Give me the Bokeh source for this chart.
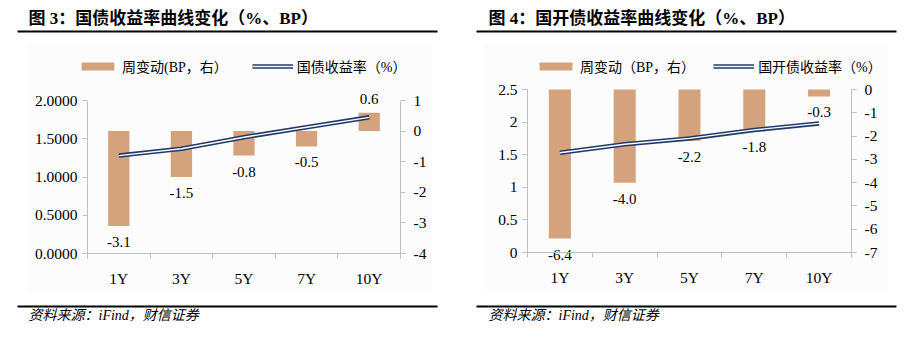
import numpy as np
from bokeh.plotting import figure
from bokeh.models import (Range1d, LinearAxis, FixedTicker, Legend, LegendItem, Label,
                          BoxAnnotation, ColumnDataSource, NumeralTickFormatter)
from bokeh.layouts import row
from bokeh.core.properties import value
from bokeh.embed import file_html
from bokeh.resources import INLINE

# ---------------- data ----------------
tenors = ["1Y", "3Y", "5Y", "7Y", "10Y"]
gz_yield = [1.28, 1.37, 1.52, 1.65, 1.78]          # 国债收益率 (%)
gz_change = [-3.1, -1.5, -0.8, -0.5, 0.6]          # 周变动 (BP)
gk_yield = [1.53, 1.66, 1.75, 1.88, 1.98]          # 国开债收益率 (%)
gk_change = [-6.4, -4.0, -2.2, -1.8, -0.3]         # 周变动 (BP)

gz_left_ticks = [0, 0.5, 1.0, 1.5, 2.0]
gz_right_ticks = [-4, -3, -2, -1, 0, 1]
gk_left_ticks = [0, 0.5, 1.0, 1.5, 2.0, 2.5]
gk_right_ticks = [-7, -6, -5, -4, -3, -2, -1, 0]

BAR = "#D4A37D"
NAVY = "#1F3A68"
AXIS = "#BFBFBF"
SERIF = "Liberation Serif"
MIX = "Liberation Serif, Noto Sans CJK SC"
H = 346


def span_range(v0, v1, p0, p1, total):
    """Range over the whole canvas so that v0 lands at pixel p0 and v1 at pixel p1
    (pixels counted from the left / bottom)."""
    k = (v1 - v0) / (p1 - p0)
    return Range1d(v0 - p0 * k, v1 + (total - p1) * k)


def style_axis(ax, standoff):
    ax.major_tick_in = 0
    ax.minor_tick_in = 0
    ax.minor_tick_out = 0
    ax.major_tick_line_color = AXIS
    ax.axis_line_color = AXIS
    ax.major_label_standoff = standoff
    ax.major_label_text_font = SERIF
    ax.major_label_text_font_size = "15.5px"
    ax.major_label_text_color = "black"


def panel(W, L, R, T, B, title, leg_bar, leg_line, yields, changes,
          yl, yl_ticks, yl_fmt, yr, yr_ticks, title_x, rule_l, rule_r,
          bg_l, bg_r, leg_x, leg_spacing):
    n = len(tenors)
    xc = np.arange(n) + 0.5
    p = figure(width=W, height=H,
               x_range=span_range(0, n, L, R, W),
               y_range=span_range(yl[0], yl[1], H - B, H - T, H),
               output_backend="svg", toolbar_location=None,
               x_axis_location=None, y_axis_location=None,
               min_border_left=0, min_border_right=0,
               min_border_top=0, min_border_bottom=0)
    p.title.visible = False
    p.extra_y_ranges = {"r": span_range(yr[0], yr[1], H - B, H - T, H)}
    p.outline_line_color = None
    p.background_fill_color = "white"
    p.border_fill_color = "white"
    p.xgrid.grid_line_color = None
    p.ygrid.grid_line_color = None

    # faint background panel
    p.add_layout(BoxAnnotation(left=bg_l, right=bg_r, top=H - 42, bottom=H - 290,
                               left_units="screen", right_units="screen",
                               top_units="screen", bottom_units="screen",
                               fill_color="#FCFCFC", fill_alpha=1, line_color=None,
                               level="underlay"))

    src = ColumnDataSource(dict(
        x=xc, yld=yields, chg=changes,
        lbl=[f"{v:.1f}" for v in changes],
        off=[16 if v < 0 else -14 for v in changes]))

    bars = p.vbar(x="x", top="chg", bottom=0, width=0.34, source=src, y_range_name="r",
                  fill_color=BAR, line_color=None)
    l1 = p.line("x", "yld", source=src, line_width=4.5, line_color=NAVY)
    l2 = p.line("x", "yld", source=src, line_width=1.4, line_color="white")
    p.text(x="x", y="chg", text="lbl", y_offset="off", source=src, y_range_name="r",
           text_align="center", text_baseline="middle",
           text_font=value(SERIF), text_font_size="15px", text_color="black")

    # axes
    xa = LinearAxis(ticker=FixedTicker(ticks=list(xc), minor_ticks=list(range(n + 1))),
                    major_label_overrides={float(x): t for x, t in zip(xc, tenors)},
                    fixed_location=yl[0], bounds=(0, n))
    style_axis(xa, 11)
    xa.major_tick_out = 0
    xa.minor_tick_out = 5
    xa.minor_tick_line_color = AXIS
    p.add_layout(xa, "below")

    ya = LinearAxis(ticker=FixedTicker(ticks=yl_ticks), formatter=NumeralTickFormatter(format=yl_fmt),
                    fixed_location=0, bounds=yl)
    style_axis(ya, 5)
    ya.major_tick_out = 5
    p.add_layout(ya, "left")

    yra = LinearAxis(y_range_name="r", ticker=FixedTicker(ticks=yr_ticks),
                     formatter=NumeralTickFormatter(format="0"),
                     fixed_location=n, bounds=yr)
    style_axis(yra, 8)
    yra.major_tick_out = 5
    p.add_layout(yra, "right")

    # legend
    leg = Legend(items=[LegendItem(label=leg_bar, renderers=[bars]),
                        LegendItem(label=leg_line, renderers=[l1, l2])],
                 orientation="horizontal", location=(leg_x, H - 76),
                 glyph_width=41, glyph_height=10, label_standoff=4, spacing=leg_spacing,
                 padding=0, margin=0, border_line_color=None, background_fill_alpha=0,
                 label_text_font=MIX, label_text_font_size="14px", label_text_color="black",
                 label_height=20)
    p.add_layout(leg)

    # title, rules, source
    p.add_layout(Label(x=title_x, y=H - 18, x_units="screen", y_units="screen",
                       text=title, text_font=MIX, text_font_size="17px", text_font_style="bold",
                       text_baseline="middle", text_color="black"))
    for top in (30, 305):
        p.add_layout(BoxAnnotation(left=rule_l, right=rule_r, top=H - top, bottom=H - top - 2,
                                   left_units="screen", right_units="screen",
                                   top_units="screen", bottom_units="screen",
                                   fill_color="black", fill_alpha=1, line_color=None))
    p.add_layout(Label(x=title_x, y=H - 315, x_units="screen", y_units="screen",
                       text="资料来源：iFind，财信证券", text_font=MIX, text_font_size="14px",
                       text_font_style="italic", text_baseline="middle", text_color="black"))
    return p


p1 = panel(456, 87, 400, 100, 253, "图 3：国债收益率曲线变化（%、BP）",
           "周变动(BP，右）", "国债收益率（%）", gz_yield, gz_change,
           (0, 2.0), gz_left_ticks, "0.0000", (-4, 1), gz_right_ticks,
           title_x=28, rule_l=17, rule_r=437, bg_l=27, bg_r=431,
           leg_x=77, leg_spacing=24)

p2 = panel(457, 71, 395, 89, 252, "图 4：国开债收益率曲线变化（%、BP）",
           "周变动（BP，右）", "国开债收益率（%）", gk_yield, gk_change,
           (0, 2.5), gk_left_ticks, "0.[0]", (-7, 0), gk_right_ticks,
           title_x=32, rule_l=20, rule_r=440, bg_l=28, bg_r=432,
           leg_x=79, leg_spacing=18)

layout = row(p1, p2)
open("out.html", "w").write(file_html(layout, INLINE))
